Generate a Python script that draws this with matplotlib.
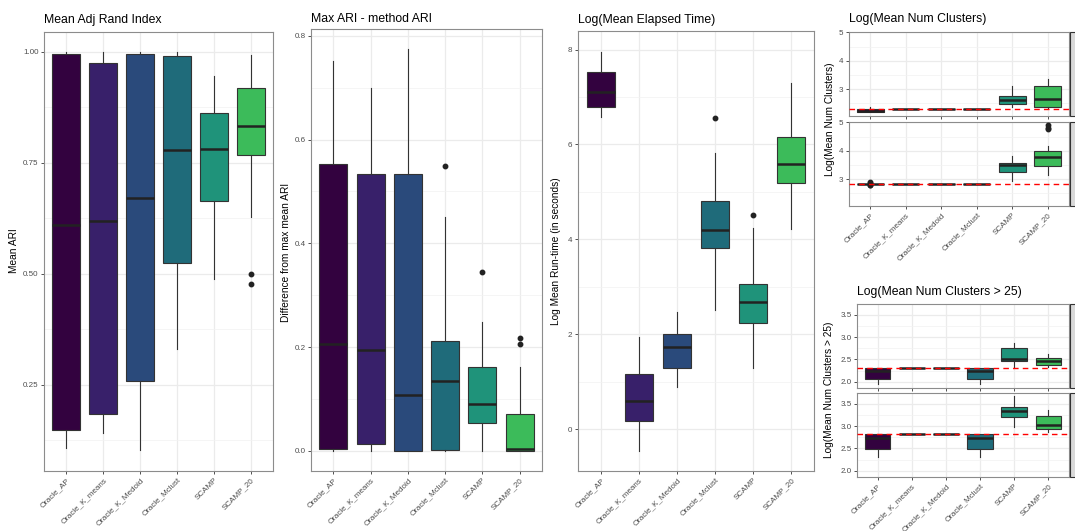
import matplotlib
matplotlib.use("Agg")
import matplotlib.pyplot as plt
from matplotlib.patches import Rectangle

W, H = 1075, 531

methods = ["Oracle_AP", "Oracle_K_means", "Oracle_K_Medoid", "Oracle_Mclust", "SCAMP", "SCAMP_20"]
fills = ["#33023f", "#38206a", "#2a4a7b", "#1f6b7a", "#1f937a", "#3cbb5a"]

# box stats per method: (whisker low, q1, median, q3, whisker high)
ari_box = [(0.106, 0.147, 0.609, 0.995, 1.0),
           (0.141, 0.183, 0.619, 0.974, 1.0),
           (0.102, 0.257, 0.671, 0.995, 1.0),
           (0.330, 0.523, 0.778, 0.991, 1.0),
           (0.488, 0.663, 0.781, 0.863, 0.946),
           (0.627, 0.767, 0.834, 0.918, 0.993)]
ari_out = [[], [], [], [], [], [0.499, 0.476]]

diff_box = [(0.0, 0.003, 0.206, 0.553, 0.752),
            (0.0, 0.014, 0.195, 0.534, 0.699),
            (0.0, 0.0, 0.108, 0.534, 0.774),
            (0.0, 0.002, 0.135, 0.211, 0.451),
            (0.0, 0.053, 0.091, 0.162, 0.249),
            (0.0, 0.0, 0.003, 0.071, 0.162)]
diff_out = [[], [], [], [0.548], [0.344], [0.218, 0.205]]

time_box = [(6.57, 6.78, 7.11, 7.52, 7.95),
            (-0.47, 0.16, 0.60, 1.15, 1.95),
            (0.88, 1.28, 1.72, 2.01, 2.46),
            (2.51, 3.81, 4.19, 4.80, 5.81),
            (1.29, 2.23, 2.67, 3.06, 4.23),
            (4.21, 5.18, 5.58, 6.15, 7.30)]
time_out = [[], [], [], [6.56], [4.52], []]

# Log(Mean Num Clusters), two facets (true k = 10 and 17)
ncl_true = [2.303, 2.833]
ncl_box_a = [(2.20, 2.21, 2.24, 2.30, 2.37),
             (2.303, 2.303, 2.303, 2.303, 2.303),
             (2.303, 2.303, 2.303, 2.303, 2.303),
             (2.303, 2.303, 2.303, 2.303, 2.303),
             (2.39, 2.47, 2.63, 2.75, 3.12),
             (2.33, 2.38, 2.67, 3.11, 3.37)]
ncl_out_a = [[], [], [], [], [], []]
ncl_box_b = [(2.833, 2.833, 2.833, 2.833, 2.833),
             (2.833, 2.833, 2.833, 2.833, 2.833),
             (2.833, 2.833, 2.833, 2.833, 2.833),
             (2.833, 2.833, 2.833, 2.833, 2.833),
             (2.95, 3.27, 3.51, 3.58, 3.82),
             (3.14, 3.47, 3.78, 3.98, 4.18)]
ncl_out_b = [[2.89, 2.87, 2.79, 2.78], [], [], [], [], [4.90, 4.81, 4.75]]

# Log(Mean Num Clusters > 25), two facets
big_box_a = [(1.94, 2.07, 2.24, 2.303, 2.303),
             (2.303, 2.303, 2.303, 2.303, 2.303),
             (2.303, 2.303, 2.303, 2.303, 2.303),
             (1.94, 2.07, 2.24, 2.303, 2.303),
             (2.34, 2.46, 2.52, 2.76, 2.87),
             (2.33, 2.37, 2.47, 2.53, 2.62)]
big_box_b = [(2.30, 2.49, 2.74, 2.833, 2.833),
             (2.833, 2.833, 2.833, 2.833, 2.833),
             (2.833, 2.833, 2.833, 2.833, 2.833),
             (2.30, 2.49, 2.73, 2.833, 2.833),
             (2.97, 3.21, 3.34, 3.42, 3.67),
             (2.87, 2.93, 3.03, 3.22, 3.35)]
no_out = [[], [], [], [], [], []]

plt.rcParams['font.family'] = ['Liberation Sans', 'DejaVu Sans']


def px_rect(x0, y0, x1, y1):
    return [x0 / W, 1 - y1 / H, (x1 - x0) / W, (y1 - y0) / H]


def box_panel(ax, box, out, ylim, major, labels, minor, xlabels=True, hline=None):
    stats = [dict(whislo=b[0], q1=b[1], med=b[2], q3=b[3], whishi=b[4], fliers=o)
             for b, o in zip(box, out)]
    bp = ax.bxp(stats, positions=range(1, 7), widths=0.75, patch_artist=True,
                showcaps=False, zorder=3,
                boxprops=dict(edgecolor='#333333', linewidth=0.8),
                medianprops=dict(color='#222222', linewidth=1.8),
                whiskerprops=dict(color='#333333', linewidth=0.8),
                flierprops=dict(marker='o', markerfacecolor='#222222',
                                markeredgecolor='#222222', markersize=3.2))
    for patch, c in zip(bp['boxes'], fills):
        patch.set_facecolor(c)
    if hline is not None:
        ax.axhline(hline, color='red', linestyle=(0, (4, 3)), linewidth=1.0, zorder=5)
    ax.set_xlim(0.4, 6.6)
    ax.set_ylim(*ylim)
    ax.set_yticks(major)
    ax.set_yticklabels(labels)
    ax.set_yticks(minor, minor=True)
    ax.set_xticks(range(1, 7))
    if xlabels:
        ax.set_xticklabels(methods, rotation=45, ha='right', va='top',
                           rotation_mode='anchor')
    else:
        ax.set_xticklabels([])
        ax.tick_params(axis='x', length=0)
    ax.set_axisbelow(True)
    ax.grid(True, which='major', color='#ebebeb', linewidth=0.9)
    ax.grid(True, which='minor', axis='y', color='#f2f2f2', linewidth=0.5)
    ax.tick_params(which='major', direction='out', length=2.5, width=0.6,
                   color='#333333', labelsize=5.8, labelcolor='#4d4d4d', pad=1.5)
    ax.tick_params(which='minor', length=0)
    for s in ax.spines.values():
        s.set_color('#8c8c8c')
        s.set_linewidth(0.8)


fig = plt.figure(figsize=(W / 100, H / 100), dpi=100)

ax1 = fig.add_axes(px_rect(44, 32, 273, 471))
box_panel(ax1, ari_box, ari_out, (0.055, 1.045), [0.25, 0.5, 0.75, 1.0],
          ["0.25", "0.50", "0.75", "1.00"], [0.125, 0.375, 0.625, 0.875])

ax2 = fig.add_axes(px_rect(311, 29, 542, 471))
box_panel(ax2, diff_box, diff_out, (-0.039, 0.813), [0, 0.2, 0.4, 0.6, 0.8],
          ["0.0", "0.2", "0.4", "0.6", "0.8"], [0.1, 0.3, 0.5, 0.7])

ax3 = fig.add_axes(px_rect(578, 31, 814, 471))
box_panel(ax3, time_box, time_out, (-0.885, 8.39), [0, 2, 4, 6, 8],
          ["0", "2", "4", "6", "8"], [1, 3, 5, 7])

ax4a = fig.add_axes(px_rect(849, 32, 1069, 116))
box_panel(ax4a, ncl_box_a, ncl_out_a, (2.06, 5.01), [3, 4, 5], ["3", "4", "5"],
          [2.5, 3.5, 4.5], xlabels=False, hline=ncl_true[0])
ax4b = fig.add_axes(px_rect(849, 122, 1069, 206))
box_panel(ax4b, ncl_box_b, ncl_out_b, (2.06, 5.01), [3, 4, 5], ["3", "4", "5"],
          [2.5, 3.5, 4.5], hline=ncl_true[1])

ax5a = fig.add_axes(px_rect(857, 304, 1069, 388))
box_panel(ax5a, big_box_a, no_out, (1.86, 3.74), [2.0, 2.5, 3.0, 3.5],
          ["2.0", "2.5", "3.0", "3.5"], [2.25, 2.75, 3.25], xlabels=False,
          hline=ncl_true[0])
ax5b = fig.add_axes(px_rect(857, 393, 1069, 477))
box_panel(ax5b, big_box_b, no_out, (1.86, 3.74), [2.0, 2.5, 3.0, 3.5],
          ["2.0", "2.5", "3.0", "3.5"], [2.25, 2.75, 3.25], hline=ncl_true[1])

# facet strips, cut off at the right edge
for (y0, y1) in [(32, 116), (122, 206), (304, 388), (393, 477)]:
    fig.patches.append(Rectangle((1069.5 / W, 1 - y1 / H), 10 / W, (y1 - y0) / H,
                                 transform=fig.transFigure, facecolor='#d9d9d9',
                                 edgecolor='#333333', linewidth=0.8, zorder=0))

# titles
titles = [("Mean Adj Rand Index", 44, 23), ("Max ARI - method ARI", 311, 22),
          ("Log(Mean Elapsed Time)", 578, 23), ("Log(Mean Num Clusters)", 849, 22),
          ("Log(Mean Num Clusters > 25)", 857, 295)]
for t, x, y in titles:
    fig.text(x / W, 1 - y / H, t, fontsize=8.8, ha='left', va='baseline')

ylabels = [("Mean ARI", 14, 251), ("Difference from max mean ARI", 286, 252),
           ("Log Mean Run-time (in seconds)", 556, 251),
           ("Log(Mean Num Clusters)", 830, 119),
           ("Log(Mean Num Clusters > 25)", 829, 390)]
for t, x, y in ylabels:
    fig.text(x / W, 1 - y / H, t, fontsize=7.3, rotation=90, ha='center', va='center')

fig.savefig("out.png", dpi=100)
